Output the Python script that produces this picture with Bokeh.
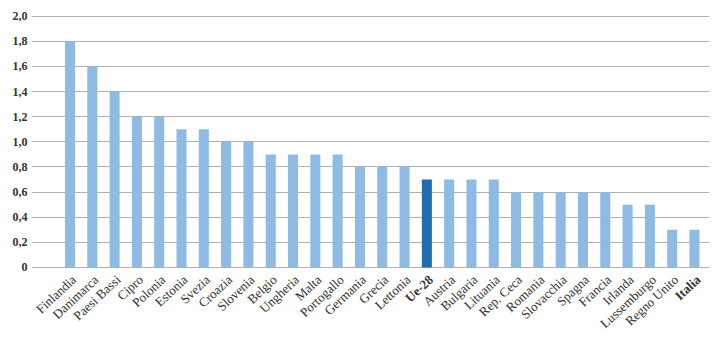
from bokeh.plotting import figure
from bokeh.models import ColumnDataSource, Range1d, FixedTicker
from bokeh.core.properties import value
from bokeh.embed import file_html
from bokeh.resources import INLINE

countries = ["Finlandia", "Danimarca", "Paesi Bassi", "Cipro", "Polonia", "Estonia", "Svezia",
             "Croazia", "Slovenia", "Belgio", "Ungheria", "Malta", "Portogallo", "Germania",
             "Grecia", "Lettonia", "Ue-28", "Austria", "Bulgaria", "Lituania", "Rep. Ceca",
             "Romania", "Slovacchia", "Spagna", "Francia", "Irlanda", "Lussemburgo",
             "Regno Unito", "Italia"]
values = [1.8, 1.6, 1.4, 1.2, 1.2, 1.1, 1.1, 1.0, 1.0, 0.9, 0.9, 0.9, 0.9, 0.8, 0.8, 0.8,
          0.7, 0.7, 0.7, 0.7, 0.6, 0.6, 0.6, 0.6, 0.6, 0.5, 0.5, 0.3, 0.3]
highlight = ["Ue-28", "Italia"]
y_ticks = [0, 0.2, 0.4, 0.6, 0.8, 1.0, 1.2, 1.4, 1.6, 1.8, 2.0]
y_tick_labels = ["0", "0,2", "0,4", "0,6", "0,8", "1,0", "1,2", "1,4", "1,6", "1,8", "2,0"]

LIGHT = "#8dbbe3"
DARK = "#1f6cae"
FONT = "Liberation Serif"

xs = list(range(len(countries)))
src = ColumnDataSource(dict(
    x=xs,
    top=values,
    name=countries,
    y0=[0] * len(countries),
    color=[DARK if c == "Ue-28" else LIGHT for c in countries],
    style=["bold" if c in highlight else "normal" for c in countries],
))

p = figure(width=716, height=343, output_backend="svg", toolbar_location=None,
           x_range=Range1d(-1.726, 28.673), y_range=Range1d(-0.605, 2.0295),
           min_border_left=31, min_border_right=7, min_border_top=12, min_border_bottom=0)
p.outline_line_color = None
p.xaxis.visible = False
p.xgrid.grid_line_color = None

p.yaxis.ticker = FixedTicker(ticks=y_ticks)
p.yaxis.major_label_overrides = {t: l for t, l in zip(y_ticks, y_tick_labels)}
p.yaxis.axis_line_color = None
p.yaxis.major_tick_line_color = None
p.yaxis.minor_tick_line_color = None
p.yaxis.major_tick_out = 0
p.yaxis.major_tick_in = 0
p.yaxis.major_label_standoff = 4
p.yaxis.major_label_text_font = FONT
p.yaxis.major_label_text_font_size = "12px"
p.yaxis.major_label_text_font_style = "bold"
p.yaxis.major_label_text_color = "#333333"
p.ygrid.grid_line_color = "#b0b0b0"
p.ygrid.grid_line_width = 1

p.vbar(x="x", top="top", bottom=0, width=0.45, fill_color="color", line_color=None, source=src)

p.text(x="x", y="y0", text="name", source=src, angle=0.75,
       text_align="right", text_baseline="middle", x_offset=4, y_offset=10,
       text_font=value(FONT), text_font_size="13px", text_font_style="style",
       text_color="#333333")

open("out.html", "w").write(file_html(p, INLINE))
